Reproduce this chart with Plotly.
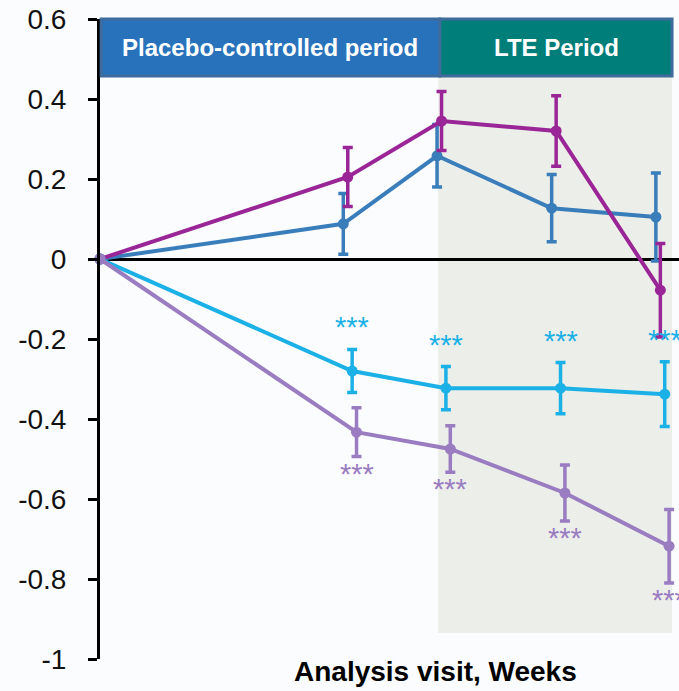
import plotly.graph_objects as go

# ---- data ----
visits = [0, 24, 33, 44, 54]  # analysis visit, weeks (x positions of visits)

steel_mean = [0, 0.088, 0.258, 0.127, 0.105]
steel_err = [0, 0.076, 0.078, 0.084, 0.110]

magenta_mean = [0, 0.205, 0.345, 0.320, -0.078]
magenta_err = [0, 0.074, 0.074, 0.088, 0.117]

cyan_mean = [0, -0.280, -0.323, -0.323, -0.338]
cyan_err = [0, 0.054, 0.054, 0.064, 0.081]

lav_mean = [0, -0.433, -0.475, -0.585, -0.718]
lav_err = [0, 0.061, 0.058, 0.070, 0.092]

cyan_sig = ["", "***", "***", "***", "***"]
lav_sig = ["", "***", "***", "***", "***"]

y_ticks = [0.6, 0.4, 0.2, 0, -0.2, -0.4, -0.6, -0.8, -1]
y_ticktext = ["0.6", "0.4", "0.2", "0", "-0.2", "-0.4", "-0.6", "-0.8", "-1"]

# ---- style ----
W, H = 679, 691
ML, MR, MT, MB = 100, 0, 19, 32
X_MAX = 55.57
STEEL = "#3a7dbb"
MAGENTA = "#9a2597"
CYAN = "#1cb1e6"
LAV = "#9a7cc1"
dodge = {"steel": -0.65, "magenta": -0.22, "cyan": 0.2, "lav": 0.62}
SIG_GAP = 0.055


def xs(offset):
    return [v + offset if v > 0 else v for v in visits]


fig = go.Figure()


def add_series(mean, err, color, key):
    fig.add_trace(go.Scatter(
        x=xs(dodge[key]), y=mean, mode="lines+markers",
        line=dict(color=color, width=4),
        marker=dict(color=color, size=11),
        error_y=dict(type="data", array=err, visible=True, color=color,
                     thickness=3.5, width=5),
        cliponaxis=False, showlegend=False,
    ))


add_series(steel_mean, steel_err, STEEL, "steel")
add_series(magenta_mean, magenta_err, MAGENTA, "magenta")
add_series(cyan_mean, cyan_err, CYAN, "cyan")
add_series(lav_mean, lav_err, LAV, "lav")

annotations = []
for x, m, e, s in zip(xs(dodge["cyan"]), cyan_mean, cyan_err, cyan_sig):
    if s:
        annotations.append(dict(x=x, y=m + e + SIG_GAP, xref="x", yref="y", text=s,
                                showarrow=False, xanchor="center", yanchor="middle",
                                font=dict(family="Arial", size=29, color=CYAN)))
for x, m, e, s in zip(xs(dodge["lav"]), lav_mean, lav_err, lav_sig):
    if s:
        annotations.append(dict(x=x, y=m - e - SIG_GAP + 0.012, xref="x", yref="y", text=s,
                                showarrow=False, xanchor="center", yanchor="middle",
                                font=dict(family="Arial", size=29, color=LAV)))

# header texts
annotations.append(dict(x=0.2936, y=0.956, xref="paper", yref="paper",
                        xanchor="center", yanchor="middle",
                        text="<b>Placebo-controlled period</b>", showarrow=False,
                        font=dict(family="Arial", size=24, color="white")))
annotations.append(dict(x=0.789, y=0.956, xref="paper", yref="paper",
                        xanchor="center", yanchor="middle",
                        text="<b>LTE Period</b>", showarrow=False,
                        font=dict(family="Arial", size=24, color="white")))
annotations.append(dict(x=0.579, y=-0.0203, xref="paper", yref="paper",
                        xanchor="center", yanchor="middle",
                        text="<b>Analysis visit, Weeks</b>", showarrow=False,
                        font=dict(family="Arial", size=28, color="black")))

shapes = [
    # LTE shaded region
    dict(type="rect", xref="paper", yref="paper", x0=0.584, x1=0.988,
         y0=(659 - 633) / 640, y1=(659 - 76) / 640, layer="below",
         fillcolor="#eceee9", line=dict(width=0)),
    # header boxes
    dict(type="rect", xref="paper", yref="paper", x0=0.002, x1=0.587,
         y0=0.911, y1=1.0, fillcolor="#2872bc", line=dict(color="#3f6b9d", width=3),
         layer="above"),
    dict(type="rect", xref="paper", yref="paper", x0=0.587, x1=0.988,
         y0=0.911, y1=1.0, fillcolor="#007e7a", line=dict(color="#3f6b9d", width=3),
         layer="above"),
]

fig.update_layout(
    width=W, height=H,
    margin=dict(l=ML, r=MR, t=MT, b=MB),
    paper_bgcolor="#fbfcfe", plot_bgcolor="rgba(0,0,0,0)",
    xaxis=dict(range=[0, X_MAX], showticklabels=False, showgrid=False,
               zeroline=False, showline=False, ticks=""),
    yaxis=dict(range=[-1, 0.6], tickvals=y_ticks, ticktext=y_ticktext,
               showgrid=False, zeroline=True, zerolinecolor="black", zerolinewidth=3,
               showline=True, linecolor="black", linewidth=3,
               ticks="outside", ticklen=9, tickwidth=3, tickcolor="black",
               ticklabelstandoff=16,
               tickfont=dict(family="Arial", size=28, color="#111")),
    annotations=annotations, shapes=shapes,
)

fig.write_html("out.html")
